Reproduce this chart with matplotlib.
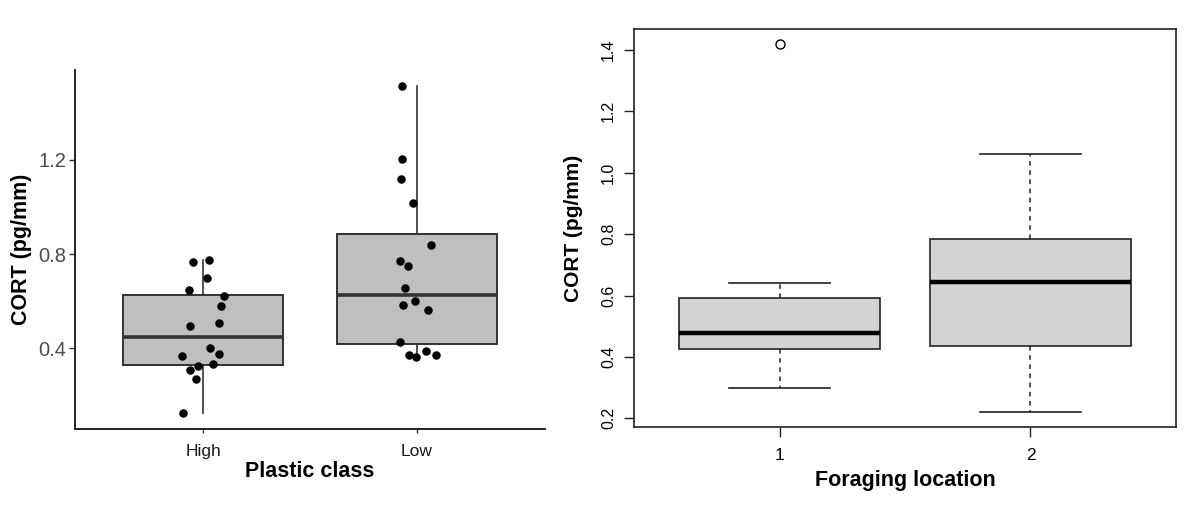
import numpy as np
import matplotlib
matplotlib.use("Agg")
import matplotlib.pyplot as plt

plt.rcParams['font.family'] = ['Liberation Sans', 'DejaVu Sans']

# ---- left panel: CORT by plastic class ----
plastic_classes = ["High", "Low"]
cort_high = [0.767, 0.774, 0.700, 0.646, 0.621, 0.580, 0.509, 0.495,
             0.401, 0.366, 0.377, 0.324, 0.332, 0.308, 0.268, 0.127]
jitter_high = [-0.048, 0.027, 0.018, -0.068, 0.097, 0.085, 0.073, -0.062,
               0.032, -0.098, 0.075, -0.023, 0.047, -0.060, -0.035, -0.095]
cort_low = [1.512, 1.203, 1.120, 1.016, 0.839, 0.771, 0.748, 0.655,
            0.601, 0.584, 0.564, 0.428, 0.370, 0.363, 0.390, 0.370]
jitter_low = [-0.068, -0.068, -0.072, -0.020, 0.065, -0.078, -0.042, -0.057,
              -0.007, -0.063, 0.053, -0.077, -0.035, -0.005, 0.042, 0.090]
left_yticks = [0.4, 0.8, 1.2]

# ---- right panel: CORT by foraging location (box summary) ----
locations = ["1", "2"]
loc_whislo = [0.300, 0.220]
loc_q1 = [0.425, 0.436]
loc_med = [0.479, 0.645]
loc_q3 = [0.591, 0.785]
loc_whishi = [0.640, 1.060]
loc_fliers = [[1.42], []]
right_yticks = [0.2, 0.4, 0.6, 0.8, 1.0, 1.2, 1.4]


def main():
    fig = plt.figure(figsize=(12, 5.26), dpi=100)
    W, H = 1200, 526

    # left: ggplot classic style
    ax1 = fig.add_axes([75 / W, 1 - 429 / H, 470 / W, 359 / H])
    edge = '#333333'
    ax1.boxplot([cort_high, cort_low], positions=[1, 2], widths=0.75,
                patch_artist=True, showfliers=False, showcaps=False,
                boxprops=dict(facecolor='#bfbfbf', edgecolor=edge, linewidth=1.4),
                medianprops=dict(color=edge, linewidth=2.6),
                whiskerprops=dict(color=edge, linewidth=1.2))
    ax1.scatter(1 + np.array(jitter_high), cort_high, s=26, color='black', zorder=3)
    ax1.scatter(2 + np.array(jitter_low), cort_low, s=26, color='black', zorder=3)

    all_vals = cort_high + cort_low
    lo, hi = min(all_vals), max(all_vals)
    pad = 0.05 * (hi - lo)
    ax1.set_ylim(lo - pad, hi + pad)
    ax1.set_xlim(0.4, 2.6)
    ax1.set_xticks([1, 2])
    ax1.set_xticklabels(plastic_classes)
    ax1.set_yticks(left_yticks)
    ax1.set_yticklabels([f"{v:.1f}" for v in left_yticks])
    for s in ['top', 'right']:
        ax1.spines[s].set_visible(False)
    for s in ['left', 'bottom']:
        ax1.spines[s].set_linewidth(1.3)
        ax1.spines[s].set_color('#111111')
    ax1.tick_params(axis='y', length=4, width=1, color=edge, labelsize=14.5,
                    labelcolor='#4d4d4d', pad=2)
    ax1.tick_params(axis='x', length=3, width=1, color=edge, labelsize=12.5,
                    labelcolor='#1a1a1a', pad=8)
    ax1.set_ylabel("CORT (pg/mm)", fontsize=15.5, fontweight='bold')
    ax1.yaxis.set_label_coords(-0.092, 0.5)
    ax1.set_xlabel("Plastic class", fontsize=15.5, fontweight='bold', labelpad=1)

    # right: base R boxplot style
    ax2 = fig.add_axes([634 / W, 1 - 427 / H, 542 / W, 398 / H])
    stats = []
    for i in range(len(locations)):
        stats.append(dict(whislo=loc_whislo[i], q1=loc_q1[i], med=loc_med[i],
                          q3=loc_q3[i], whishi=loc_whishi[i], fliers=loc_fliers[i]))
    ax2.bxp(stats, positions=[1, 2], widths=0.8, patch_artist=True,
            boxprops=dict(facecolor='#d3d3d3', edgecolor='#222222', linewidth=1.2),
            medianprops=dict(color='black', linewidth=3.2),
            whiskerprops=dict(color='#222222', linewidth=1.1, linestyle=(0, (3, 3))),
            capprops=dict(color='#222222', linewidth=1.2),
            capwidths=0.4,
            flierprops=dict(marker='o', markerfacecolor='none',
                            markeredgecolor='black', markersize=6.5, markeredgewidth=1))
    ylo = min(loc_whislo)
    yhi = max(max(loc_whishi), max(sum(loc_fliers, [])))
    rpad = 0.04 * (yhi - ylo)
    ax2.set_ylim(ylo - rpad, yhi + rpad)
    ax2.set_xlim(0.5 - 0.04 * 2, 2.5 + 0.04 * 2)
    ax2.set_xticks([1, 2])
    ax2.set_xticklabels(locations)
    ax2.set_yticks(right_yticks)
    ax2.set_yticklabels([f"{v:.1f}" for v in right_yticks], rotation=90, va='center')
    for s in ax2.spines.values():
        s.set_linewidth(1.2)
        s.set_color('#222222')
    ax2.tick_params(axis='y', length=7, width=1, color='#222222', labelsize=11.5, pad=6)
    ax2.tick_params(axis='x', length=7, width=1, color='#222222', labelsize=12.5, pad=8)
    ax2.set_ylabel("CORT (pg/mm)", fontsize=15, fontweight='bold')
    ax2.yaxis.set_label_coords(-0.095, 0.5)
    ax2.set_xlabel("Foraging location", fontsize=15.5, fontweight='bold', labelpad=5)

    fig.savefig("out.png", dpi=100)
    print("saved out.png")


if __name__ == "__main__":
    main()
